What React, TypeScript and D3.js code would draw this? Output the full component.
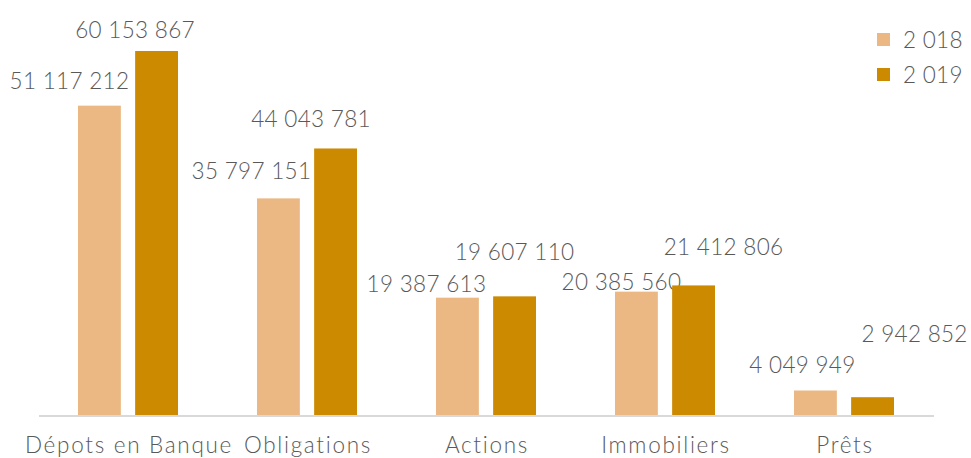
import React from "react";
import * as d3 from "d3";

const categories = ["Dépots en Banque", "Obligations", "Actions", "Immobiliers", "Prêts"];
const seriesNames = ["2 018", "2 019"];
const values2018 = [51117212, 35797151, 19387613, 20385560, 4049949];
const values2019 = [60153867, 44043781, 19607110, 21412806, 2942852];
const labels2018 = ["51 117 212", "35 797 151", "19 387 613", "20 385 560", "4 049 949"];
const labels2019 = ["60 153 867", "44 043 781", "19 607 110", "21 412 806", "2 942 852"];

// manual label placement (as in the reference): horizontal shift & gap above bar
const labelDx2018 = [-30, -27, -31, -15, -13];
const labelGap2018 = [17, 19, 6, 2, 17];
const labelDx2019 = [-21.5, -24.5, 0, 30, 42];
const labelGap2019 = [13, 21, 36, 30, 55];

const W = 971;
const H = 458;
const colors = ["#EBB883", "#CB8A00"];
const textColor = "#595959";
const font = "Lato, 'Open Sans', sans-serif";

export default function App() {
  const x0 = d3.scaleBand<string>().domain(categories).range([38.5, 933.5]).paddingInner(0).paddingOuter(0);
  const x1 = d3.scaleBand<string>().domain(seriesNames).range([39.5, x0.bandwidth() - 39.5]).paddingInner(0.25).paddingOuter(0);
  const y = d3.scaleLinear().domain([0, 70000000]).range([415, -8.6]);

  const series = [
    { name: seriesNames[0], vals: values2018, labels: labels2018, dx: labelDx2018, gap: labelGap2018 },
    { name: seriesNames[1], vals: values2019, labels: labels2019, dx: labelDx2019, gap: labelGap2019 },
  ];

  return (
    <svg width={W} height={H} style={{ position: "absolute", left: 0, top: 0, background: "#fff" }} fontFamily={font} fontWeight={300}>
      <line x1={39} x2={934} y1={y(0) + 1} y2={y(0) + 1} stroke="#D9D9D9" strokeWidth={2} />
      {series.map((s, si) => (
        <g key={s.name}>
          {categories.map((c, i) => {
            const bx = (x0(c) as number) + (x1(s.name) as number);
            const bw = x1.bandwidth();
            const top = y(s.vals[i]);
            return (
              <g key={c}>
                <rect x={bx} y={top} width={bw} height={y(0) - top} fill={colors[si]} />
                <text
                  x={bx + bw / 2 + s.dx[i]}
                  y={top - s.gap[i]}
                  textAnchor="middle"
                  fontSize={22.5}
                  letterSpacing={0.3}
                  fill={textColor}
                >
                  {s.labels[i]}
                </text>
              </g>
            );
          })}
        </g>
      ))}
      {categories.map((c) => (
        <text
          key={c}
          x={(x0(c) as number) + x0.bandwidth() / 2 + 1}
          y={453}
          textAnchor="middle"
          fontSize={22.5}
          letterSpacing={1.7}
          fill={textColor}
        >
          {c}
        </text>
      ))}
      {seriesNames.map((n, i) => (
        <g key={n} transform={`translate(877, ${33 + i * 35})`}>
          <rect x={0} y={0} width={13} height={13} fill={colors[i]} />
          <text x={26} y={15} fontSize={22.5} letterSpacing={0.3} fill={textColor}>
            {n}
          </text>
        </g>
      ))}
    </svg>
  );
}
